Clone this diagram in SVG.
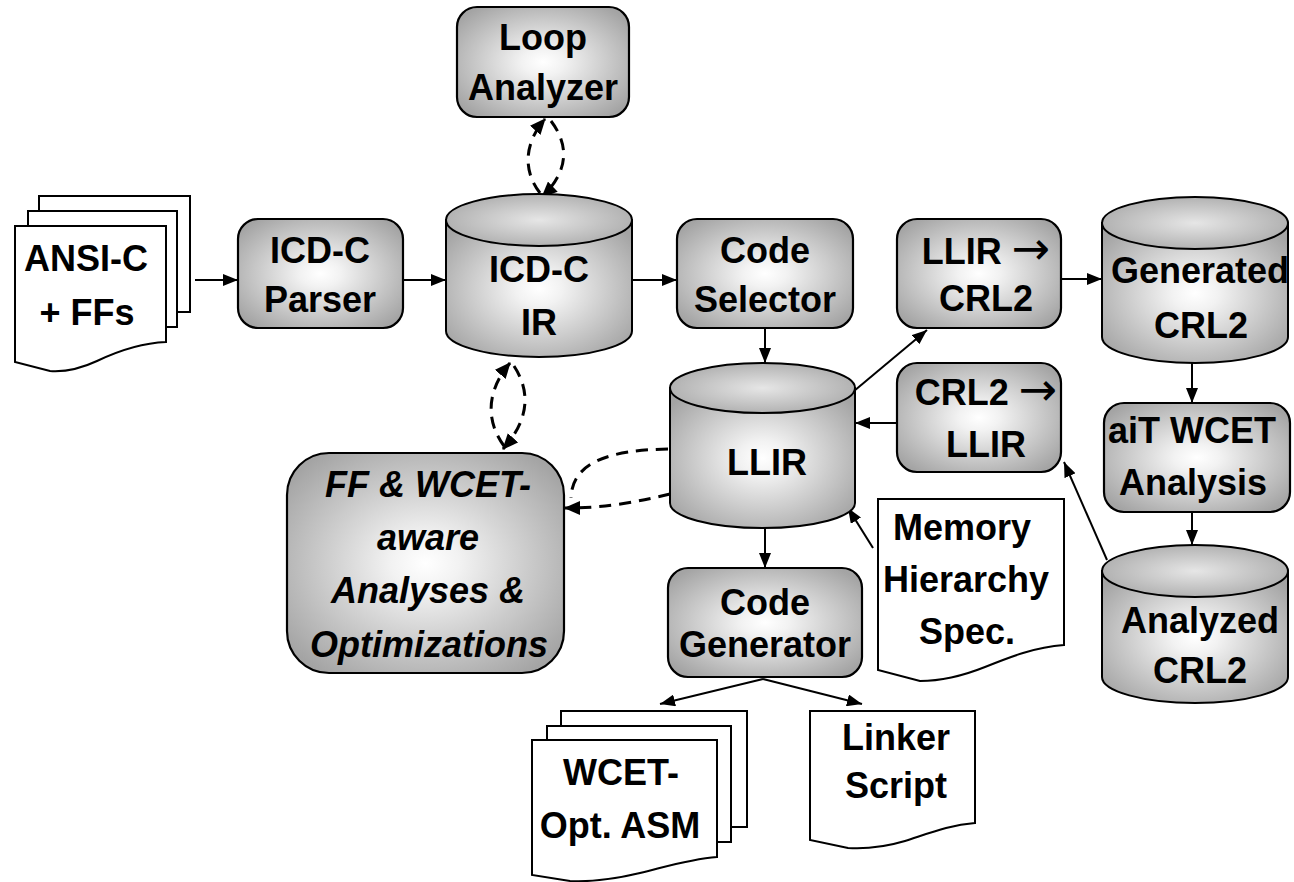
<svg xmlns="http://www.w3.org/2000/svg" width="1294" height="882" viewBox="0 0 1294 882">
<defs>
<radialGradient id="g" cx="0.5" cy="0.5" r="0.62">
<stop offset="0" stop-color="#ffffff"/>
<stop offset="0.2" stop-color="#f2f2f2"/>
<stop offset="1" stop-color="#a4a4a4"/>
</radialGradient>
<radialGradient id="gt" cx="0.5" cy="0.5" r="0.6">
<stop offset="0" stop-color="#e6e6e6"/>
<stop offset="1" stop-color="#a8a8a8"/>
</radialGradient>
<marker id="ah" viewBox="0 0 15 12" refX="15" refY="6" markerWidth="15" markerHeight="12" markerUnits="userSpaceOnUse" orient="auto">
<path d="M0,0 L15,6 L0,12 Z" fill="#000"/>
</marker>
<marker id="ahd" viewBox="0 0 16 14" refX="15" refY="7" markerWidth="16" markerHeight="14" markerUnits="userSpaceOnUse" orient="auto">
<path d="M0,0 L16,7 L0,14 Z" fill="#000"/>
</marker>
</defs>
<style>
.box{fill:url(#g);stroke:#000;stroke-width:2.2}
.cyl{fill:url(#g);stroke:#000;stroke-width:2}
.cap{fill:url(#gt);stroke:#000;stroke-width:2}
.doc{fill:#fff;stroke:#000;stroke-width:2}
.t{font-family:"Liberation Sans",Arial,sans-serif;font-weight:bold;font-size:36px;text-anchor:middle;fill:#000}
.i{font-style:italic}
.ar{font-family:"DejaVu Sans",sans-serif;font-weight:normal;font-size:46px}
.c{fill:none;stroke:#000;stroke-width:2;marker-end:url(#ah)}
.d{fill:none;stroke:#000;stroke-width:3;stroke-dasharray:12 8}
</style>

<g id="connectors">
<line class="c" x1="195" y1="280" x2="238" y2="280"/>
<line class="c" x1="403" y1="280" x2="446" y2="280"/>
<line class="c" x1="632" y1="280" x2="677" y2="280"/>
<line class="c" x1="765" y1="328" x2="765" y2="363"/>
<line class="c" x1="765" y1="528" x2="765" y2="568"/>
<line class="c" x1="854" y1="391" x2="927" y2="330"/>
<line class="c" x1="1061" y1="279" x2="1102" y2="279"/>
<line class="c" x1="1192" y1="363" x2="1192" y2="403"/>
<line class="c" x1="1192" y1="512" x2="1192" y2="545"/>
<line class="c" x1="1107" y1="560" x2="1064" y2="462"/>
<line class="c" x1="897" y1="423" x2="855" y2="423"/>
<line class="c" x1="873" y1="548" x2="848" y2="508"/>
<line class="c" x1="763" y1="679" x2="660" y2="704"/>
<line class="c" x1="763" y1="679" x2="862" y2="704"/>
<path class="d" d="M540,193 C522,170 525,142 545,119" marker-end="url(#ahd)"/>
<path class="d" d="M551,121 C570,146 568,172 542,197" marker-end="url(#ahd)"/>
<path class="d" d="M504,446 C485,420 487,390 510,363" marker-end="url(#ahd)"/>
<path class="d" d="M514,366 C531,392 529,420 503,449" marker-end="url(#ahd)"/>
<path class="d" d="M668,449 C610,450 572,462 571,498"/>
<path class="d" d="M670,494 C640,501 610,508 565,508" marker-end="url(#ahd)"/>
</g>

<g id="ansi">
<rect class="doc" x="39" y="196" width="151" height="116"/>
<rect class="doc" x="28" y="211" width="149" height="116"/>
<path class="doc" d="M15,226 H166 V342 C140,343 118,351 97,361 C80,369 65,372 50,371 L15,362 Z"/>
<text class="t" x="86" y="271">ANSI-C</text>
<text class="t" x="87" y="325">+ FFs</text>
</g>

<g id="parser">
<rect class="box" x="238" y="219" width="165" height="109" rx="20"/>
<text class="t" x="320" y="263">ICD-C</text>
<text class="t" x="320" y="312">Parser</text>
</g>

<g id="icdc-ir">
<path class="cyl" d="M446,220 V331 A93,26 0 0 0 632,331 V220 Z"/>
<ellipse class="cap" cx="539" cy="220" rx="93" ry="26"/>
<text class="t" x="539" y="282">ICD-C</text>
<text class="t" x="539" y="335">IR</text>
</g>

<g id="loop">
<rect class="box" x="457" y="7" width="172" height="110" rx="20"/>
<text class="t" x="543" y="50">Loop</text>
<text class="t" x="543" y="100">Analyzer</text>
</g>

<g id="selector">
<rect class="box" x="677" y="219" width="176" height="109" rx="20"/>
<text class="t" x="765" y="263">Code</text>
<text class="t" x="765" y="312">Selector</text>
</g>

<g id="llir">
<path class="cyl" d="M670,388 V503 A92.5,25 0 0 0 855,503 V388 Z"/>
<ellipse class="cap" cx="762.5" cy="388" rx="92.5" ry="25"/>
<text class="t" x="767" y="475">LLIR</text>
</g>

<g id="ff">
<rect class="box" x="287" y="453" width="277" height="220" rx="42"/>
<text class="t i" x="428" y="497">FF &amp; WCET-</text>
<text class="t i" x="428" y="550">aware</text>
<text class="t i" x="428" y="603">Analyses &amp;</text>
<text class="t i" x="429" y="657">Optimizations</text>
</g>

<g id="codegen">
<rect class="box" x="668" y="568" width="194" height="109" rx="20"/>
<text class="t" x="765" y="615">Code</text>
<text class="t" x="765" y="657">Generator</text>
</g>

<g id="asm">
<rect class="doc" x="561" y="711" width="186" height="116"/>
<rect class="doc" x="547" y="726" width="184" height="116"/>
<path class="doc" d="M532,740 H717 V857 C690,859 665,867 640,873 C615,879 590,882 570,881 L532,875 Z"/>
<text class="t" x="621" y="785">WCET-</text>
<text class="t" x="620" y="838">Opt. ASM</text>
</g>

<g id="linker">
<path class="doc" d="M810,711 H975 V823 C950,825 930,833 905,841 C885,847 865,849 848,848 L810,840 Z"/>
<text class="t" x="896" y="750">Linker</text>
<text class="t" x="896" y="798">Script</text>
</g>

<g id="memory">
<path class="doc" d="M878,499 H1064 V645 C1035,647 1010,657 985,667 C960,677 940,681 920,681 L878,670 Z"/>
<text class="t" x="962" y="540">Memory</text>
<text class="t" x="966" y="592">Hierarchy</text>
<text class="t" x="967" y="644">Spec.</text>
</g>

<g id="llir2crl2">
<rect class="box" x="897" y="219" width="164" height="109" rx="20"/>
<text class="t" x="986" y="264">LLIR <tspan class="ar">→</tspan></text>
<text class="t" x="986" y="311">CRL2</text>
</g>

<g id="crl22llir">
<rect class="box" x="897" y="363" width="164" height="109" rx="20"/>
<text class="t" x="986" y="405">CRL2 <tspan class="ar">→</tspan></text>
<text class="t" x="986" y="457">LLIR</text>
</g>

<g id="generated">
<path class="cyl" d="M1102,223 V337 A93,26 0 0 0 1288,337 V223 Z"/>
<ellipse class="cap" cx="1195" cy="223" rx="93" ry="26"/>
<text class="t" x="1200" y="283">Generated</text>
<text class="t" x="1201" y="338">CRL2</text>
</g>

<g id="ait">
<rect class="box" x="1104" y="403" width="186" height="109" rx="20"/>
<text class="t" x="1192" y="443">aiT WCET</text>
<text class="t" x="1193" y="495">Analysis</text>
</g>

<g id="analyzed">
<path class="cyl" d="M1102,571 V677 A93,26 0 0 0 1288,677 V571 Z"/>
<ellipse class="cap" cx="1195" cy="571" rx="93" ry="26"/>
<text class="t" x="1200" y="633">Analyzed</text>
<text class="t" x="1200" y="683">CRL2</text>
</g>
</svg>
